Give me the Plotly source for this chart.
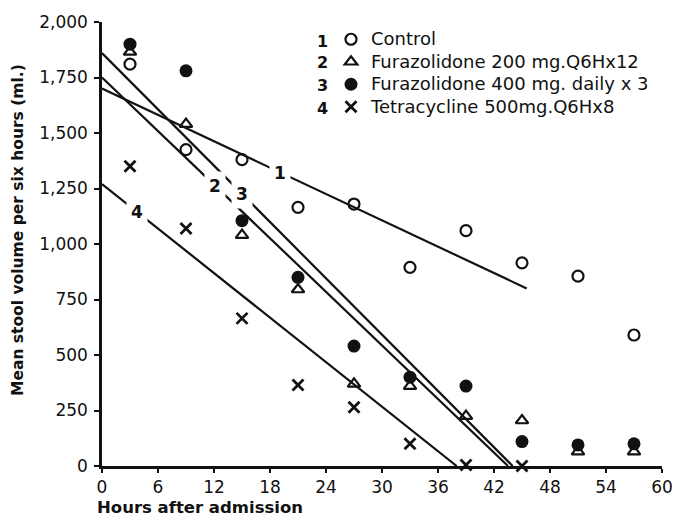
import plotly.graph_objects as go

# ---- data ----
hours = [3, 9, 15, 21, 27, 33, 39, 45, 51, 57]
control = [1810, 1425, 1380, 1165, 1180, 895, 1060, 915, 855, 590]
furaz200 = [1865, 1540, 1040, 795, 370, 360, 225, 205, 65, 65]
furaz400 = [1900, 1780, 1105, 850, 540, 400, 360, 110, 95, 100]
tetra_hours = [3, 9, 15, 21, 27, 33, 39, 45]
tetra = [1350, 1070, 665, 365, 265, 100, 5, 0]

# regression lines (end points)
fit1_x, fit1_y = [0, 45.5], [1700, 800]
fit2_x, fit2_y = [0, 43.5], [1750, 0]
fit3_x, fit3_y = [0, 44.0], [1860, 0]
fit4_x, fit4_y = [0, 38.0], [1270, 0]

# line-label positions (x, y, label)
line_labels = [(19.1, 1322, "1"), (12.1, 1262, "2"), (15.0, 1226, "3"), (3.8, 1145, "4")]

x_ticks = [0, 6, 12, 18, 24, 30, 36, 42, 48, 54, 60]
y_ticks = [0, 250, 500, 750, 1000, 1250, 1500, 1750, 2000]

names = ["Control", "Furazolidone 200 mg.Q6Hx12",
         "Furazolidone 400 mg. daily x 3", "Tetracycline 500mg.Q6Hx8"]

FONT = "DejaVu Sans"
BLACK = "#111111"

# page offset of the figure (8px body margin) compensated in the layout geometry
OFF = 8
W, H = 680, 511
ML, MR, MT, MB = 94, 26, 14, 53
PW, PH = W - ML - MR, H - MT - MB


def px_x(sx):  # screen x -> paper x
    return (sx - OFF - ML) / PW


def px_y(sy):  # screen y -> paper y
    return (MT + PH - (sy - OFF)) / PH


fig = go.Figure()

for fx, fy in [(fit1_x, fit1_y), (fit2_x, fit2_y), (fit3_x, fit3_y), (fit4_x, fit4_y)]:
    fig.add_trace(go.Scatter(x=fx, y=fy, mode="lines", line=dict(color=BLACK, width=2.2),
                             showlegend=False, hoverinfo="skip", cliponaxis=False))

span = '<span style="font-size:18px">%s</span>'
fig.add_trace(go.Scatter(x=hours, y=control, mode="markers", name=span % names[0],
                         marker=dict(symbol="circle-open", size=11, color=BLACK,
                                     line=dict(width=2.2, color=BLACK)), cliponaxis=False))
fig.add_trace(go.Scatter(x=hours, y=furaz200, mode="markers", name=span % names[1],
                         marker=dict(symbol="triangle-up-open", size=11, color=BLACK,
                                     line=dict(width=2.2, color=BLACK)), cliponaxis=False))
fig.add_trace(go.Scatter(x=hours, y=furaz400, mode="markers", name=span % names[2],
                         marker=dict(symbol="circle", size=13, color=BLACK), cliponaxis=False))
fig.add_trace(go.Scatter(x=tetra_hours, y=tetra, mode="markers", name=span % names[3],
                         marker=dict(symbol="x-thin-open", size=11, color=BLACK,
                                     line=dict(width=2.8, color=BLACK)), cliponaxis=False))

annotations = []
for lx, ly, lt in line_labels:
    annotations.append(dict(x=lx, y=ly, xref="x", yref="y", text="<b>%s</b>" % lt,
                            showarrow=False, bgcolor="white", borderpad=4,
                            xanchor="center", yanchor="middle",
                            font=dict(family=FONT, size=17, color=BLACK)))

# legend numbers
for i, sy in enumerate([41, 63, 86, 108]):
    annotations.append(dict(x=px_x(322), y=px_y(sy), xref="paper", yref="paper",
                            xanchor="center", yanchor="middle",
                            text="<b>%d</b>" % (i + 1), showarrow=False,
                            font=dict(family=FONT, size=16, color=BLACK)))

annotations.append(dict(x=px_x(95), y=px_y(507), xref="paper", yref="paper",
                        xanchor="left", yanchor="middle", text="<b>Hours after admission</b>",
                        showarrow=False, font=dict(family=FONT, size=16.5, color=BLACK)))
annotations.append(dict(x=px_x(18), y=px_y(230), xref="paper", yref="paper",
                        xanchor="center", yanchor="middle", textangle=-90,
                        text="<b>Mean stool volume per six hours (ml.)</b>",
                        showarrow=False, font=dict(family=FONT, size=15.5, color=BLACK)))

fig.update_layout(
    width=W, height=H,
    margin=dict(l=ML, r=MR, t=MT, b=MB, autoexpand=False),
    paper_bgcolor="white", plot_bgcolor="white",
    font=dict(family=FONT, size=17, color=BLACK),
    showlegend=True,
    legend=dict(x=px_x(331), y=px_y(23), xanchor="left", yanchor="top",
                bgcolor="rgba(0,0,0,0)", font=dict(family=FONT, size=15, color=BLACK),
                tracegroupgap=0),
    annotations=annotations,
)
fig.update_xaxes(range=[0, 60], tickvals=x_ticks, showgrid=False, zeroline=False,
                 automargin=False,
                 showline=True, linecolor=BLACK, linewidth=2.5, ticks="outside",
                 ticklen=4, tickwidth=2, tickcolor=BLACK,
                 tickfont=dict(family=FONT, size=17, color=BLACK))
fig.update_yaxes(range=[0, 2000], tickvals=y_ticks, tickformat=",", showgrid=False,
                 automargin=False,
                 zeroline=False, showline=True, linecolor=BLACK, linewidth=2.5,
                 ticks="outside", ticklen=5, tickwidth=2, tickcolor=BLACK,
                 ticklabelstandoff=3,
                 tickfont=dict(family=FONT, size=17, color=BLACK))

fig.write_html("out.html")
